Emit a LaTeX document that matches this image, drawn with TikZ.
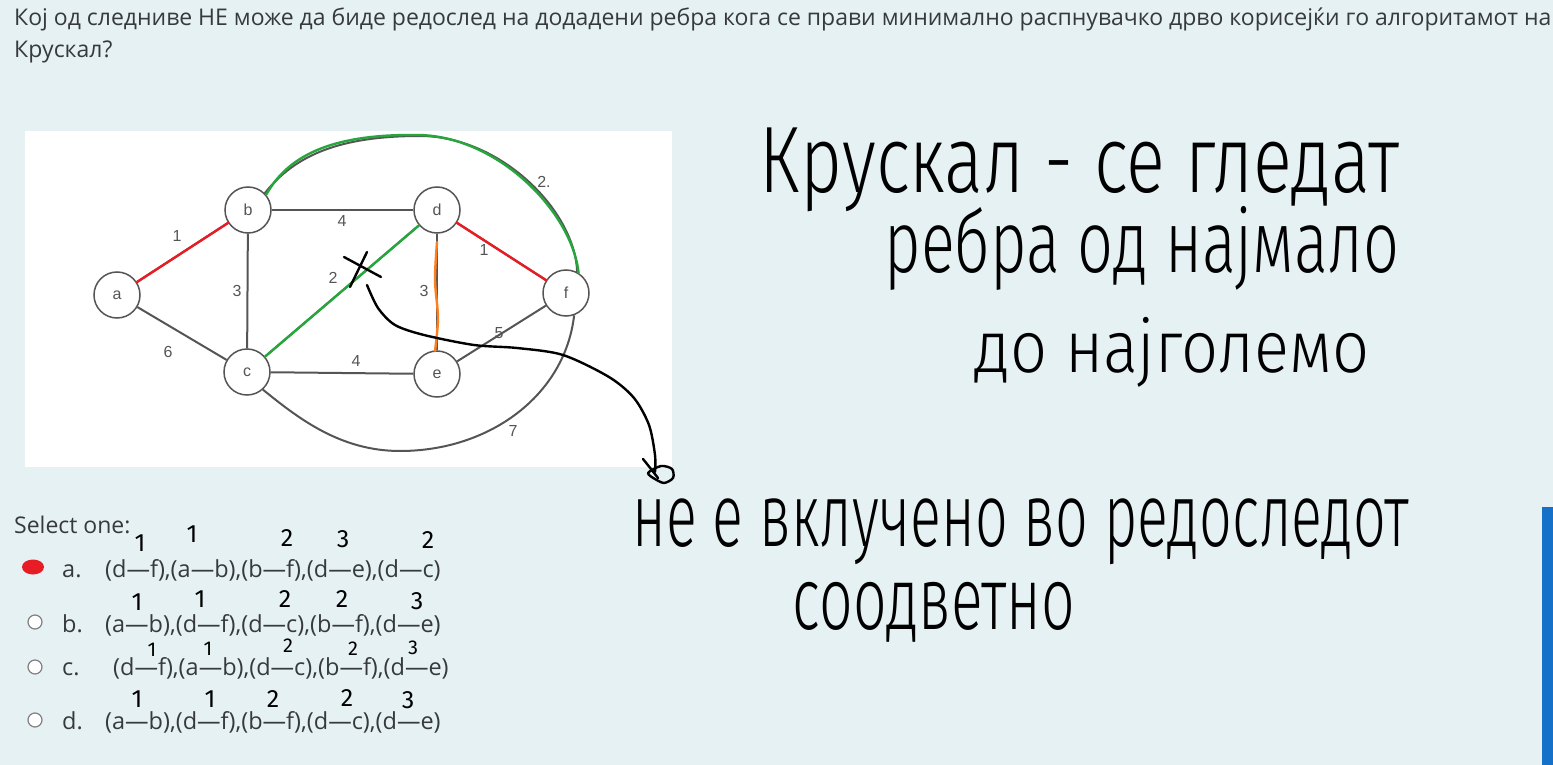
\documentclass[tikz,border=0pt]{standalone}
\usepackage{fontspec}
\usepackage{graphicx}
\usetikzlibrary{shapes.geometric}
\setmainfont{Open Sans}
\newfontfamily\graphfont{Liberation Sans}
\newfontfamily\handfont{Fira Sans Light}
\newfontfamily\digitfont{Fira Sans}
\definecolor{pagebg}{RGB}{230,241,244}
\definecolor{bodytext}{RGB}{55,58,60}
\definecolor{graphgray}{RGB}{85,85,85}
\definecolor{inkred}{RGB}{232,28,36}
\definecolor{inkgreen}{RGB}{38,166,60}
\definecolor{inkorange}{RGB}{255,127,30}
\definecolor{barblue}{RGB}{20,112,200}
\tikzset{
  vertex/.style={circle, draw=graphgray, fill=white, line width=1.5pt, minimum size=46pt,
    inner sep=0pt, text=graphgray, font=\graphfont\fontsize{16}{16}\selectfont},
  edge/.style={draw=graphgray, line width=2pt},
  wlabel/.style={text=graphgray, inner sep=0pt, font=\graphfont\fontsize{16}{16}\selectfont},
  ink/.style={line width=2.4pt, line cap=round, line join=round},
  hand/.style={inner sep=0pt, text=black, font=\handfont},
  digit/.style={inner sep=0pt, text=black, font=\digitfont\fontsize{25}{25}\selectfont},
  smalldigit/.style={digit, font=\digitfont\fontsize{20}{20}\selectfont},
  qtext/.style={anchor=base west, inner sep=0pt, text=bodytext, font=\fontsize{23}{23}\selectfont},
  otext/.style={qtext, font=\fontsize{23.5}{23.5}\selectfont},
  radio/.style={circle, draw=gray, fill=white, line width=1.2pt, minimum size=14pt, inner sep=0pt}
}
\begin{document}
\begin{tikzpicture}[x=1pt, y=-1pt]
  \fill[pagebg] (0,0) rectangle (1553,765);
  \useasboundingbox (0,0) rectangle (1553,765);
  \node[qtext] (q1) at (14,26) {Кој од следниве НЕ може да биде редослед на додадени ребра кога се прави минимално распнувачко дрво корисејќи го алгоритамот на};
  \node[qtext] (q2) at (14,58) {Крускал?};

  % graph picture
  \fill[white] (25,131) rectangle (672,467);
  \node[vertex] (a) at (117,295) {a};
  \node[vertex] (b) at (248,210) {b};
  \node[vertex] (c) at (247,372) {c};
  \node[vertex] (d) at (437,210) {d};
  \node[vertex] (e) at (437,374) {e};
  \node[vertex] (f) at (566,293) {f};
  \draw[edge] (a) -- (b);
  \draw[edge] (a) -- (c);
  \draw[edge] (b) -- (c);
  \draw[edge] (b) -- (d);
  \draw[edge] (c) -- (d);
  \draw[edge] (c) -- (e);
  \draw[edge] (d) -- (e);
  \draw[edge] (d) -- (f);
  \draw[edge] (e) -- (f);
  \draw[edge] (b.45) .. controls (295,155) and (340,136) .. (420,136)
    .. controls (500,136) and (575,210) .. (f.62);
  \draw[edge] (c.-48) .. controls (298,418) and (340,451) .. (400,451)
    .. controls (490,451) and (565,395) .. (f.-70);
  \node[wlabel] (wab) at (177,236) {1};
  \node[wlabel] (wac) at (168,352) {6};
  \node[wlabel] (wbc) at (237,291) {3};
  \node[wlabel] (wbd) at (342,221) {4};
  \node[wlabel] (wcd) at (333,278) {2};
  \node[wlabel] (wde) at (424,291) {3};
  \node[wlabel] (wdf) at (484,250) {1};
  \node[wlabel] (wef) at (499,333) {5};
  \node[wlabel] (wce) at (356,361) {4};
  \node[wlabel] (wbf) at (544,182) {2.};
  \node[wlabel] (wcf) at (513,431) {7};

  % marker over the picked edges
  \draw[ink, inkred] (a) -- (b);
  \draw[ink, inkred] (d) -- (f);
  \draw[ink, inkgreen] (c) -- (d);
  \draw[ink, inkgreen] (b.40) .. controls (290,152) and (338,134) .. (418,135)
    .. controls (498,136) and (572,212) .. (f.58);
  \draw[ink, inkorange] plot[smooth] coordinates {(437,242) (435,280) (438,318) (435,351)};

  \coordinate (xmark) at (362,268);
  \coordinate (xend) at (655,472);
  \draw[ink, black] (344,257) -- (381,277);
  \draw[ink, black] (367,252) -- (350,287);
  \draw[ink, black] plot[smooth] coordinates {(367,285) (378,308) (395,325) (424,335) (474,345)
    (517,348) (563,355) (609,377) (634,398) (649,425) (655,455) (xend)};
  \draw[ink, black] plot[smooth] coordinates {(643,459) (651,469) (658,478)};
  \draw[ink, black] plot[smooth] coordinates {(655,479) (648,473) (661,466) (672,469) (673,478) (664,483) (655,479)};

  % notes
  \node[hand] (note1) at (1080,170) {\resizebox*{640pt}{84pt}{Крускал - се гледат}};
  \node[hand] (note2) at (1142,248) {\resizebox*{515pt}{84pt}{ребра од најмало}};
  \node[hand] (note3) at (1172,352) {\resizebox*{395pt}{70pt}{до најголемо}};
  \node[hand] (note4) at (1021,532) {\resizebox*{777pt}{66pt}{не е вклучено во редоследот}};
  \node[hand] (note5) at (934,612) {\resizebox*{282pt}{60pt}{соодветно}};

  % answers
  \node[qtext] (sel) at (14,533) {Select one:};
  \node[ellipse, fill=inkred, minimum width=22pt, minimum height=15pt, inner sep=0pt] (ra) at (33,567) {};
  \node[radio] (rb) at (35,622) {};
  \node[radio] (rc) at (35,667) {};
  \node[radio] (rd) at (35,720) {};
  \node[otext] (la) at (62,577) {a.};
  \node[otext] (lb) at (62,632) {b.};
  \node[otext] (lc) at (62,675) {c.};
  \node[otext] (ld) at (62,729) {d.};
  \node[otext] (oa) at (105,577) {(d—f),(a—b),(b—f),(d—e),(d—c)};
  \node[otext] (ob) at (105,632) {(a—b),(d—f),(d—c),(b—f),(d—e)};
  \node[otext] (oc) at (113,675) {(d—f),(a—b),(d—c),(b—f),(d—e)};
  \node[otext] (od) at (105,729) {(a—b),(d—f),(b—f),(d—c),(d—e)};

  \node[digit] (a1) at (140,543) {1};
  \node[digit] (a2) at (192,534) {1};
  \node[digit] (a3) at (287,538) {2};
  \node[digit] (a4) at (343,539) {3};
  \node[digit] (a5) at (428,540) {2};
  \node[digit] (b1) at (137,602) {1};
  \node[digit] (b2) at (200,599) {1};
  \node[digit] (b3) at (285,599) {2};
  \node[digit] (b4) at (342,599) {2};
  \node[digit] (b5) at (417,601) {3};
  \node[smalldigit] (c1) at (152,650) {1};
  \node[smalldigit] (c2) at (208,649) {1};
  \node[smalldigit] (c3) at (288,646) {2};
  \node[smalldigit] (c4) at (353,649) {2};
  \node[smalldigit] (c5) at (413,648) {3};
  \node[digit] (d1) at (137,699) {1};
  \node[digit] (d2) at (210,699) {1};
  \node[digit] (d3) at (273,699) {2};
  \node[digit] (d4) at (347,698) {2};
  \node[digit] (d5) at (408,700) {3};

  \fill[barblue] (1542,507) rectangle (1553,765);
\end{tikzpicture}
\end{document}
